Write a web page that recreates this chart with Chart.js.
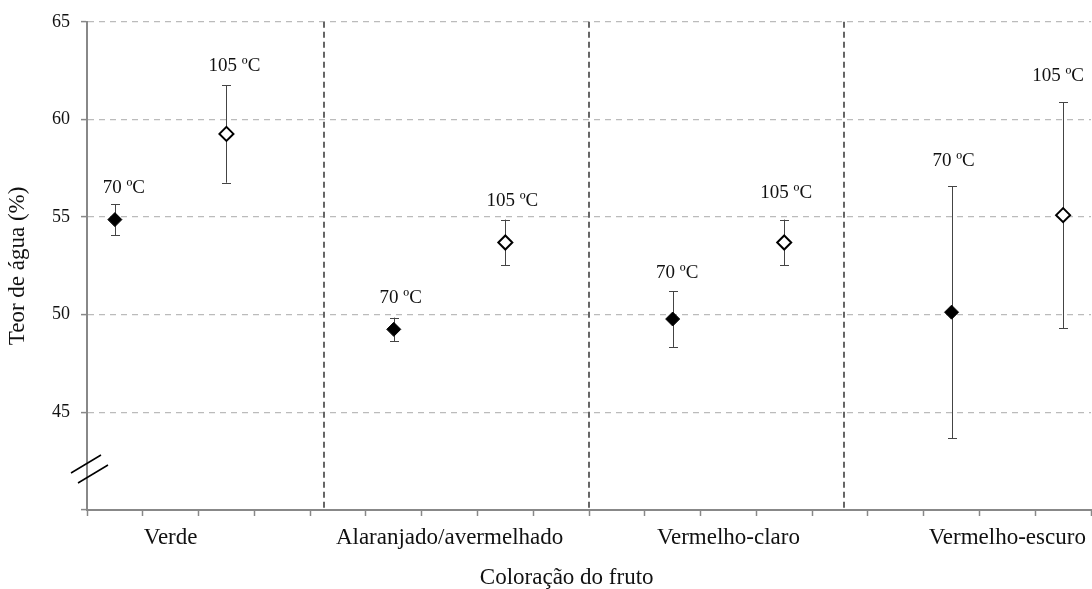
<!DOCTYPE html>
<html><head><meta charset="utf-8">
<script src="https://cdn.jsdelivr.net/npm/chart.js@4"></script>
<style>html,body{margin:0;padding:0;background:#fff}#wrap{width:1092px;height:589px}</style>
</head><body><div id="wrap"><canvas id="c" width="1092" height="589"></canvas></div>
<script>
// ---- data ----
const categories = ["Verde", "Alaranjado/avermelhado", "Vermelho-claro", "Vermelho-escuro"];
const categoryCenters = [1.5, 6.5, 11.5, 16.5];
const separators = [4.25, 9.0, 13.58];
const xPos70 = [0.5, 5.5, 10.5, 15.5];
const xPos105 = [2.5, 7.5, 12.5, 17.5];
const mean70 = [54.87, 49.25, 49.78, 50.13];
const err70 = [0.8, 0.6, 1.43, 6.45];
const mean105 = [59.26, 53.70, 53.70, 55.10];
const err105 = [2.5, 1.17, 1.17, 5.78];
const label70 = "70 ºC";
const label105 = "105 ºC";
const yTicks = [45, 50, 55, 60, 65];
const yTitle = "Teor de água (%)";
const xTitle = "Coloração do fruto";

const FONT = "'Liberation Serif', 'Times New Roman', serif";

function pts(xs, ys, es) { return xs.map((x, i) => ({x: x, y: ys[i], e: es[i]})); }

// label placement (style): pixel offsets from the top of each error bar
const labelDy = [[16, 20, 18, 25], [19, 19, 27, 26]];
const labelDx = [[9, 7, 4.5, 2], [8, 7, 2, -5]];

const decor = {
  id: 'decor',
  beforeDatasetsDraw(chart) {
    const {ctx, chartArea, scales: {x, y}} = chart;
    ctx.save();
    ctx.strokeStyle = '#666'; ctx.lineWidth = 2; ctx.setLineDash([6, 4]);
    separators.forEach(s => {
      const px = Math.round(x.getPixelForValue(s));
      ctx.beginPath(); ctx.moveTo(px, chartArea.top); ctx.lineTo(px, chartArea.bottom); ctx.stroke();
    });
    ctx.setLineDash([]);
    ctx.strokeStyle = '#444'; ctx.lineWidth = 1;
    chart.data.datasets.forEach(ds => {
      ds.data.forEach(p => {
        const px = Math.round(x.getPixelForValue(p.x)) + 0.5;
        const t = y.getPixelForValue(p.y + p.e), b = y.getPixelForValue(p.y - p.e);
        ctx.beginPath();
        ctx.moveTo(px, t); ctx.lineTo(px, b);
        ctx.moveTo(px - 4.5, Math.round(t) + 0.5); ctx.lineTo(px + 4.5, Math.round(t) + 0.5);
        ctx.moveTo(px - 4.5, Math.round(b) + 0.5); ctx.lineTo(px + 4.5, Math.round(b) + 0.5);
        ctx.stroke();
      });
    });
    const by = y.getPixelForValue(42.1), ax = x.getPixelForValue(0);
    ctx.strokeStyle = '#000'; ctx.lineWidth = 1.5;
    ctx.beginPath();
    ctx.moveTo(ax - 16, by + 4); ctx.lineTo(ax + 14, by - 14);
    ctx.moveTo(ax - 9, by + 14); ctx.lineTo(ax + 21, by - 4);
    ctx.stroke();
    ctx.restore();
  },
  afterDatasetsDraw(chart) {
    const {ctx, chartArea, scales: {x, y}} = chart;
    ctx.save();
    ctx.fillStyle = '#111';
    ctx.textAlign = 'center'; ctx.textBaseline = 'middle';
    ctx.font = '19px ' + FONT;
    chart.data.datasets.forEach((ds, di) => {
      ds.data.forEach((p, i) => {
        const px = x.getPixelForValue(p.x) + labelDx[di][i];
        const py = y.getPixelForValue(p.y + p.e) - labelDy[di][i];
        ctx.fillText(ds.label, px, py);
      });
    });
    ctx.font = '23px ' + FONT;
    categories.forEach((c, i) => {
      ctx.fillText(c, x.getPixelForValue(categoryCenters[i]), chartArea.bottom + 28);
    });
    ctx.fillText(xTitle, x.getPixelForValue(8.6), chartArea.bottom + 68);
    ctx.restore();
  }
};

new Chart(document.getElementById('c'), {
  type: 'scatter',
  data: {
    datasets: [
      {label: label70, data: pts(xPos70, mean70, err70), pointStyle: 'rectRot', pointRadius: 7, pointHoverRadius: 7,
       backgroundColor: '#000', borderColor: '#000', borderWidth: 1},
      {label: label105, data: pts(xPos105, mean105, err105), pointStyle: 'rectRot', pointRadius: 7, pointHoverRadius: 7,
       backgroundColor: '#fff', borderColor: '#000', borderWidth: 2}
    ]
  },
  options: {
    responsive: false, animation: false,
    layout: {autoPadding: false, padding: {top: 20, right: 1, left: 0, bottom: 0}},
    plugins: {legend: {display: false}, tooltip: {enabled: false}},
    scales: {
      x: {
        type: 'linear', min: 0, max: 18,
        ticks: {stepSize: 1, callback: () => '', font: {size: 2}, maxRotation: 0},
        grid: {drawOnChartArea: false, drawTicks: true, tickLength: 6, tickColor: '#888', tickWidth: 1.5},
        border: {color: '#888', width: 2},
        afterFit(s) { s.height = 79; s.paddingLeft = 0; s.paddingRight = 0; }
      },
      y: {
        min: 40, max: 65,
        afterBuildTicks(s) { s.ticks = [40].concat(yTicks).map(v => ({value: v})); },
        ticks: {
          callback: v => (yTicks.includes(v) ? String(v) : ''),
          font: {family: FONT, size: 18}, color: '#111', padding: 11
        },
        grid: {
          color: c => (c.tick && c.tick.value === 40 ? 'rgba(0,0,0,0)' : '#bbb'),
          lineWidth: 1.2, tickLength: 6, tickColor: '#888', tickWidth: 1.5
        },
        border: {color: '#888', width: 2, dash: [6, 5]},
        title: {display: true, text: yTitle, font: {family: FONT, size: 23}, color: '#111', padding: {top: 4, bottom: 4}},
        afterFit(s) { s.width = 87; }
      }
    }
  },
  plugins: [decor]
});
</script></body></html>
